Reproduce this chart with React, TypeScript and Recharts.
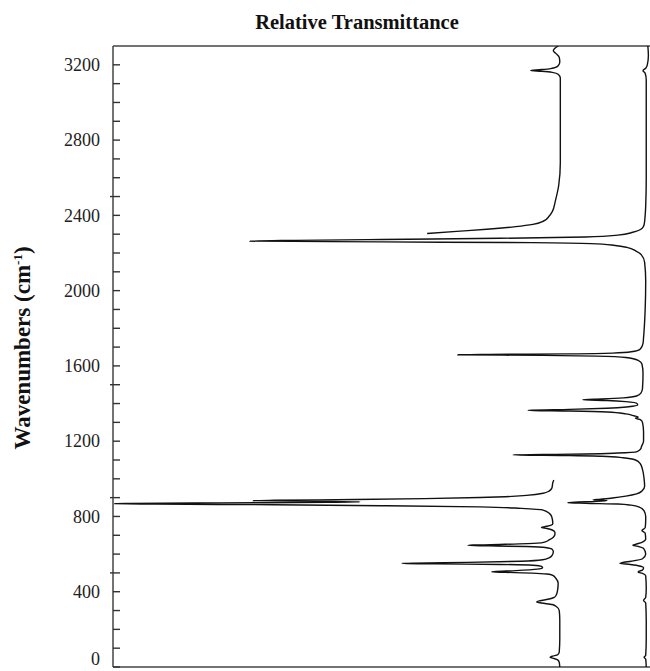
import React from "react";
import { LineChart, Line, XAxis, YAxis, ReferenceLine } from "recharts";

// Wavenumber (cm-1) / relative transmittance (%) pairs
const spectrumB: [number, number][] = [
  [3300, 99.6], [3250, 99.7], [3200, 99.5], [3182, 99.2], [3169, 98.7], [3155, 99.1], [3120, 99.3],
  [3000, 99.3], [2800, 99.3], [2600, 99.3], [2450, 99.2], [2400, 99.1], [2350, 98.9], [2330, 98.5],
  [2310, 96.8], [2295, 94], [2285, 88], [2278, 72], [2272, 50], [2267, 34], [2263, 25.5], [2259, 50],
  [2255, 78], [2250, 89], [2240, 93.5], [2230, 95.7], [2210, 97.4], [2190, 98.4], [2150, 99.0],
  [2050, 99.2], [1900, 99.1], [1750, 98.8], [1720, 98.7], [1690, 98.2], [1675, 96.5], [1668, 93],
  [1664, 85], [1661, 70], [1659, 64.2], [1656, 80], [1652, 90], [1645, 95.5], [1630, 97.8],
  [1610, 98.5], [1560, 98.7], [1480, 98.6], [1455, 98.3], [1440, 97.5], [1430, 95], [1424, 91],
  [1420, 87.5], [1416, 92], [1410, 95.5], [1400, 97.6], [1392, 97.7], [1383, 96], [1375, 92],
  [1369, 85], [1365, 78], [1363, 77.3], [1360, 85], [1355, 92], [1345, 95.5], [1335, 97.0],
  [1328, 97.8], [1322, 97.3], [1315, 98.2], [1300, 98.6], [1250, 98.8], [1200, 98.8], [1170, 98.4],
  [1160, 98.3], [1145, 97.6], [1137, 94], [1132, 88], [1129, 80], [1127, 74.5], [1124, 85],
  [1120, 91], [1112, 95], [1100, 97.3], [1080, 98.2], [1050, 98.6], [1000, 98.9], [960, 99.0],
  [935, 98.5], [920, 97.5], [908, 95.5], [898, 93], [891, 90.5], [888, 89.4], [885, 92], [880, 90],
  [876, 86], [873, 84.7], [870, 88], [866, 94], [860, 96.5], [850, 98], [830, 98.9], [800, 99.2],
  [780, 99.2], [740, 99.1], [725, 98.5], [712, 99.1], [680, 99.2], [662, 98.5], [652, 97.3],
  [647, 96.8], [642, 97.6], [630, 98.8], [600, 99.2], [575, 98.6], [562, 96.5], [555, 94.8],
  [551, 94.4], [547, 95.6], [538, 97.8], [528, 98.8], [515, 98.6], [508, 97.9], [504, 97.8],
  [498, 98.6], [485, 99.2], [420, 99.3], [370, 99.2], [354, 98.8], [340, 99.2], [250, 99.3],
  [150, 99.3], [62, 99.2], [52, 98.9], [42, 99.2], [0, 99.3],
];

const spectrumAHigh: [number, number][] = [
  [3300, 82.9], [3285, 82.2], [3275, 82.0], [3262, 82.4], [3240, 83.1], [3215, 83.2], [3195, 82.9],
  [3180, 81.5], [3174, 79.5], [3170, 77.8], [3166, 79.8], [3160, 81.8], [3150, 82.9], [3130, 83.3],
  [3000, 83.3], [2800, 83.3], [2680, 83.3], [2560, 83.0], [2480, 82.4], [2420, 81.8], [2395, 81.2],
  [2370, 80.2], [2352, 78.2], [2340, 75], [2326, 69.6], [2315, 64], [2304, 58.5],
];

const spectrumALow: [number, number][] = [
  [993, 82.1], [980, 81.9], [960, 81.8], [949, 81.7], [935, 81.2], [923, 80.1], [912, 77],
  [905, 73], [901, 68.3], [895, 58], [890, 45], [886, 30], [884, 26.1], [881, 38], [878, 46],
  [875, 40], [872, 20], [869, 3], [868, 0.3], [866, 8], [862, 30], [857, 50], [851, 68.3],
  [843, 76], [834, 80.1], [815, 81.3], [798, 81.7], [763, 81.9], [752, 81.5], [745, 80.3],
  [741, 79.8], [736, 80.8], [728, 81.8], [715, 82.3], [705, 82.3], [690, 82.0], [675, 81.2],
  [665, 80.5], [658, 79], [652, 73], [648, 67], [646, 66.1], [644, 70], [640, 77], [635, 80.5],
  [625, 81.8], [612, 82.0], [595, 81.8], [580, 81.2], [570, 80], [562, 76], [556, 66], [552, 56],
  [550, 53.8], [548, 60], [545, 72], [541, 78.2], [535, 79.8], [528, 80.0], [520, 79], [512, 75],
  [507, 71], [505, 70.5], [503, 73], [499, 78], [494, 80.8], [487, 81.9], [470, 82.5], [445, 82.9],
  [410, 82.8], [380, 82.5], [368, 82], [360, 81], [352, 79.5], [346, 78.9], [340, 79.8], [332, 81.8],
  [320, 82.6], [300, 83.1], [250, 83.2], [150, 83.2], [80, 83.1], [65, 82.8], [57, 81.8], [52, 81.4],
  [47, 81.9], [38, 82.8], [25, 83.1], [0, 83.2],
];

const yTicks: number[] = [];
for (let v = 0; v <= 3200; v += 100) yTicks.push(v);
const labeledStep = 400;
const crossingTicks = [500, 900, 1500, 2500];

const toRows = (arr: [number, number][]) => arr.map(([w, t]) => ({ w, t }));

const YTick = (props: any) => {
  const { x, y, payload } = props;
  const v = payload.value as number;
  const labeled = v % labeledStep === 0;
  const cross = crossingTicks.includes(v);
  return (
    <g>
      <line x1={cross ? x - 3 : x} x2={x + 7} y1={y} y2={y} stroke="#333" strokeWidth={1.4} />
      {labeled && (
        <text
          x={x - 13}
          y={v === 0 ? y - 8 : y}
          dy="0.35em"
          textAnchor="end"
          fontFamily="'Liberation Serif', 'Times New Roman', serif"
          fontSize={18}
          fill="#222"
        >
          {v}
        </text>
      )}
    </g>
  );
};

export default function App() {
  const lineProps = {
    type: "monotone" as const,
    dataKey: "t",
    stroke: "#111",
    strokeWidth: 1.4,
    dot: false,
    activeDot: false,
    isAnimationActive: false,
  };
  return (
    <div style={{ position: "absolute", left: 0, top: 0, width: 650, height: 671, overflow: "hidden" }}>
      <LineChart
        width={650}
        height={671}
        layout="vertical"
        margin={{ top: 46, right: 0, bottom: 4, left: 0 }}
      >
        <XAxis type="number" dataKey="t" domain={[0, 100]} hide allowDataOverflow />
        <YAxis
          type="number"
          dataKey="w"
          domain={[0, 3300]}
          reversed
          allowDataOverflow
          width={113}
          ticks={yTicks}
          interval={0}
          tickSize={0}
          tickMargin={0}
          tickLine={false}
          axisLine={{ stroke: "#444", strokeWidth: 1.5 }}
          tick={<YTick />}
        />
        <ReferenceLine y={3300} stroke="#444" strokeWidth={1.5} />
        <ReferenceLine y={0} stroke="#444" strokeWidth={1.5} />
        <Line {...lineProps} data={toRows(spectrumB)} />
        <Line {...lineProps} data={toRows(spectrumAHigh)} />
        <Line {...lineProps} data={toRows(spectrumALow)} />
      </LineChart>
      <div
        style={{
          position: "absolute",
          left: 357,
          top: 22,
          transform: "translate(-50%, -50%)",
          fontFamily: "'Liberation Serif', 'Times New Roman', serif",
          fontWeight: "bold",
          fontSize: 20.5,
          whiteSpace: "nowrap",
          color: "#111",
        }}
      >
        Relative Transmittance
      </div>
      <div
        style={{
          position: "absolute",
          left: 23,
          top: 348,
          transform: "translate(-50%, -50%) rotate(-90deg)",
          fontFamily: "'Liberation Serif', 'Times New Roman', serif",
          fontWeight: "bold",
          fontSize: 23,
          whiteSpace: "nowrap",
          color: "#111",
        }}
      >
        Wavenumbers (cm<sup style={{ fontSize: 13 }}>-1</sup>)
      </div>
    </div>
  );
}
